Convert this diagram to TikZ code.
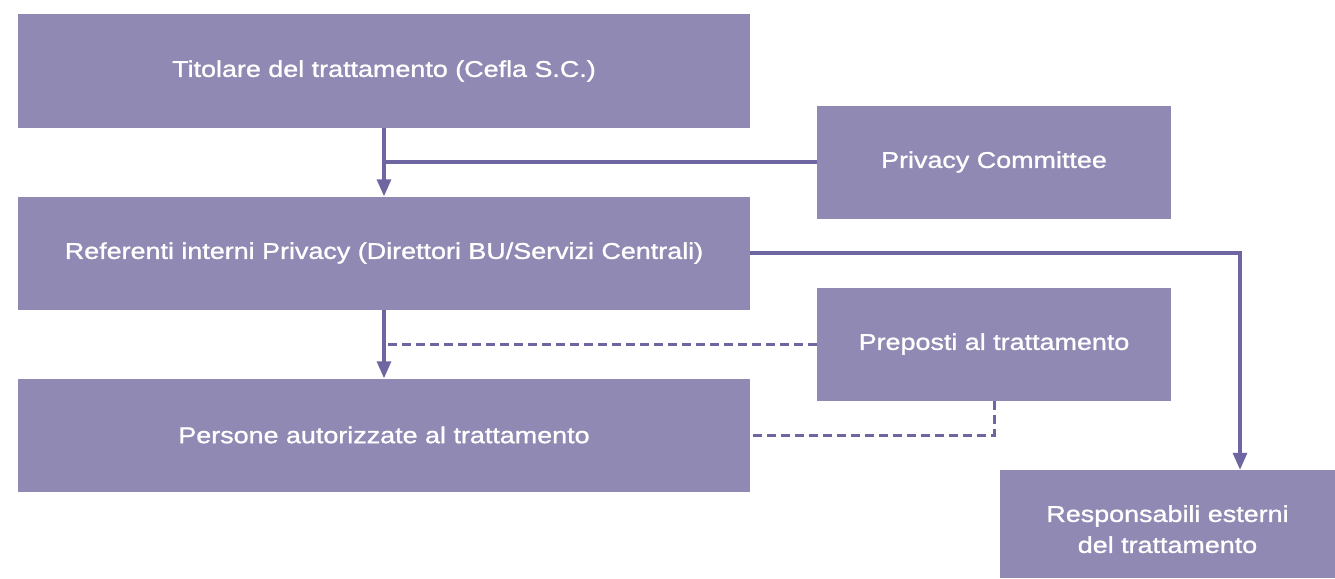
\documentclass[tikz,border=0pt]{standalone}
\usepackage{fontspec}
\setmainfont{Liberation Sans}
\newfontfamily\boxfont[FakeStretch=1.18,FakeBold=1.2]{Liberation Sans}
\usetikzlibrary{arrows.meta}
\definecolor{boxfill}{HTML}{8F89B3}
\definecolor{linec}{HTML}{6E66A0}
\begin{document}
\begin{tikzpicture}[x=1pt,y=-1pt,
  box/.style={fill=boxfill,draw=none,text=white,font=\boxfont\fontsize{22.8}{32}\selectfont,align=center,inner sep=0pt},
  conn/.style={draw=linec,line width=3.2pt},
  dconn/.style={draw=linec,line width=3pt,dash pattern=on 9pt off 5pt},
  arr/.style={-{Triangle[width=14pt,length=17pt]}}]
\useasboundingbox (0,0) rectangle (1335,578);
\node[box,minimum width=732pt,minimum height=113pt] (tit) at (384,71) {Titolare del trattamento (Cefla S.C.)};
\node[box,minimum width=354pt,minimum height=113pt] (pc) at (994,162) {Privacy Committee};
\node[box,minimum width=732pt,minimum height=113pt] (ref) at (384,253) {Referenti interni Privacy (Direttori BU/Servizi Centrali)};
\node[box,minimum width=354pt,minimum height=113pt] (prep) at (994,344) {Preposti al trattamento};
\node[box,minimum width=732pt,minimum height=113pt] (pers) at (384,435) {Persone autorizzate al trattamento};
\node[box,minimum width=335pt,minimum height=108pt] (resp) at (1167.5,524) {\raisebox{-7pt}[\height][\depth]{\begin{tabular}{@{}c@{}}Responsabili esterni\\[-1pt]del trattamento\end{tabular}}};
\coordinate (j1) at (384,162);
\coordinate (j2) at (384,344);
\coordinate (c1) at (1240,253);
\coordinate (c2) at (994,435);
\draw[conn,arr] (tit.south) -- (ref.north);
\draw[conn] (pc.west) -- (j1);
\draw[conn,arr] (ref.east) -- (c1) -- (c1 |- resp.north);
\draw[conn,arr] (ref.south) -- (pers.north);
\draw[dconn] (prep.west) -- (j2);
\draw[dconn] (prep.south) -- (c2) -- (pers.east);
\end{tikzpicture}
\end{document}
